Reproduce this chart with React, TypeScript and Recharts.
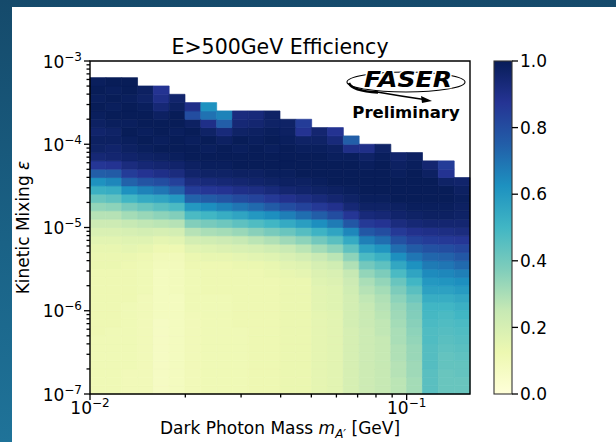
import React from 'react';
import { ScatterChart, Scatter, XAxis, YAxis, ReferenceArea } from 'recharts';

// Dark photon mass bin edges [GeV]
const massEdges = [
  0.01, 0.01122, 0.01259, 0.01413, 0.01585, 0.01778, 0.01995, 0.02239, 0.02512, 0.02818,
  0.03162, 0.03548, 0.03981, 0.04467, 0.05012, 0.05623, 0.0631, 0.07079, 0.07943, 0.08913,
  0.1, 0.1122, 0.1259, 0.1413, 0.1585,
];

// Kinetic mixing bin edges
const epsEdges = [
  1e-7, 1.259e-7, 1.585e-7, 1.995e-7, 2.512e-7, 3.162e-7, 3.981e-7, 5.012e-7, 6.31e-7, 7.943e-7,
  1e-6, 1.259e-6, 1.585e-6, 1.995e-6, 2.512e-6, 3.162e-6, 3.981e-6, 5.012e-6, 6.31e-6, 7.943e-6,
  1e-5, 1.259e-5, 1.585e-5, 1.995e-5, 2.512e-5, 3.162e-5, 3.981e-5, 5.012e-5, 6.31e-5, 7.943e-5,
  1e-4, 1.259e-4, 1.585e-4, 1.995e-4, 2.512e-4, 3.162e-4, 3.981e-4, 5.012e-4, 6.31e-4, 7.943e-4,
  1e-3,
];

// Efficiency per mass bin, listed from the lowest epsilon bin upward
const eff00 = [0.11,0.11,0.11,0.11,0.11,0.11,0.11,0.12,0.12,0.12,0.12,0.12,0.12,0.12,0.12,0.13,0.13,
  0.14,0.16,0.19,0.23,0.28,0.34,0.42,0.52,0.62,0.75,0.87,0.94,
  0.97,0.98,0.96,0.98,0.99,1.0,0.99,1.0,0.99];
const eff01 = [0.11,0.11,0.11,0.11,0.11,0.11,0.11,0.11,0.12,0.12,0.12,0.12,0.12,0.12,0.12,0.13,0.13,
  0.14,0.16,0.19,0.23,0.28,0.35,0.44,0.53,0.65,0.76,0.88,0.95,
  0.96,0.98,0.97,0.99,1.0,0.99,1.0,0.99,1.0];
const eff02 = [0.1,0.1,0.1,0.11,0.11,0.11,0.11,0.11,0.11,0.11,0.11,0.12,0.12,0.12,0.12,0.12,
  0.13,0.15,0.17,0.2,0.25,0.31,0.39,0.5,0.62,0.74,0.85,0.92,0.96,
  0.98,0.99,1.0,0.99,1.0,1.0,0.99,1.0,1.0];
const eff03 = [0.1,0.1,0.1,0.1,0.1,0.1,0.1,0.1,0.1,0.1,0.1,0.1,0.11,0.11,0.11,0.11,
  0.12,0.14,0.17,0.21,0.26,0.33,0.42,0.54,0.66,0.78,0.88,0.94,0.97,
  0.99,1.0,0.99,1.0,1.0,0.99,0.97,0.98];
const eff04 = [0.07,0.07,0.07,0.07,0.07,0.07,0.07,0.07,0.07,0.08,0.08,0.08,0.08,0.08,0.08,
  0.09,0.1,0.12,0.15,0.2,0.27,0.35,0.45,0.56,0.69,0.8,0.9,0.95,0.98,
  1.0,0.99,1.0,1.0,0.98,0.94,0.9,0.88];
const eff05 = [0.08,0.08,0.08,0.08,0.08,0.08,0.08,0.08,0.08,0.08,0.08,0.08,0.09,0.09,0.09,
  0.09,0.1,0.12,0.16,0.21,0.28,0.37,0.48,0.6,0.74,0.84,0.92,0.96,0.99,
  1.0,1.0,0.99,1.0,1.0,0.98,0.96];
const eff06 = [0.1,0.1,0.1,0.1,0.1,0.1,0.1,0.1,0.1,0.1,0.11,0.11,0.11,0.11,0.11,0.12,
  0.13,0.16,0.21,0.28,0.37,0.48,0.6,0.74,0.85,0.92,0.96,0.98,1.0,
  1.0,0.99,1.0,0.98,0.8,0.9];
const eff07 = [0.11,0.11,0.11,0.11,0.11,0.11,0.11,0.11,0.11,0.11,0.11,0.11,0.12,0.12,0.12,0.12,
  0.14,0.17,0.22,0.3,0.39,0.5,0.63,0.76,0.87,0.93,0.97,0.99,1.0,
  0.99,1.0,0.97,0.9,0.7,0.62];
const eff08 = [0.11,0.11,0.11,0.11,0.11,0.11,0.11,0.11,0.11,0.11,0.11,0.11,0.12,0.12,0.12,0.12,
  0.14,0.18,0.23,0.31,0.41,0.53,0.66,0.78,0.88,0.94,0.97,0.99,1.0,
  1.0,0.98,0.93,0.75,0.66];
const eff09 = [0.11,0.11,0.11,0.11,0.11,0.11,0.11,0.11,0.12,0.12,0.12,0.12,0.12,0.12,0.12,
  0.13,0.15,0.19,0.25,0.33,0.44,0.56,0.69,0.81,0.9,0.95,0.98,1.0,1.0,
  0.99,1.0,0.97,0.94,0.92];
const eff10 = [0.12,0.12,0.12,0.12,0.12,0.12,0.12,0.12,0.12,0.12,0.12,0.12,0.12,0.12,0.12,
  0.13,0.16,0.2,0.27,0.36,0.47,0.6,0.72,0.83,0.91,0.96,0.98,1.0,1.0,
  1.0,0.99,0.98,0.95,0.93];
const eff11 = [0.12,0.12,0.12,0.12,0.12,0.12,0.12,0.12,0.12,0.12,0.12,0.12,0.12,0.12,0.13,
  0.14,0.17,0.22,0.29,0.39,0.5,0.63,0.76,0.86,0.93,0.97,0.99,1.0,1.0,
  0.99,1.0,0.99,0.97,0.97];
const eff12 = [0.13,0.13,0.13,0.13,0.13,0.13,0.13,0.13,0.13,0.13,0.13,0.13,0.13,0.13,
  0.14,0.16,0.19,0.24,0.32,0.42,0.54,0.67,0.8,0.89,0.95,0.98,0.99,1.0,1.0,
  1.0,0.99,0.98,0.97];
const eff13 = [0.13,0.13,0.13,0.13,0.13,0.13,0.13,0.13,0.13,0.13,0.13,0.13,0.13,0.13,
  0.15,0.17,0.21,0.27,0.35,0.46,0.58,0.71,0.83,0.91,0.96,0.98,1.0,1.0,1.0,
  0.99,0.97,0.88,0.85];
const eff14 = [0.15,0.15,0.15,0.15,0.15,0.15,0.15,0.15,0.15,0.15,0.16,0.16,0.16,
  0.17,0.18,0.2,0.24,0.31,0.4,0.51,0.63,0.75,0.86,0.93,0.97,0.99,1.0,1.0,1.0,
  0.99,0.97,0.95];
const eff15 = [0.16,0.16,0.16,0.16,0.16,0.16,0.16,0.16,0.16,0.16,0.17,0.17,0.17,
  0.18,0.19,0.22,0.27,0.35,0.45,0.56,0.68,0.8,0.89,0.95,0.98,1.0,1.0,1.0,0.99,
  0.98,0.93,0.88];
const eff16 = [0.2,0.2,0.2,0.2,0.2,0.2,0.2,0.2,0.21,0.21,0.21,0.21,
  0.22,0.23,0.25,0.29,0.35,0.44,0.54,0.65,0.77,0.87,0.94,0.97,0.99,1.0,1.0,1.0,0.99,
  0.9,0.75];
const eff17 = [0.23,0.23,0.23,0.23,0.23,0.23,0.23,0.23,0.24,0.24,0.25,
  0.26,0.28,0.3,0.34,0.4,0.48,0.57,0.67,0.77,0.86,0.93,0.97,0.99,1.0,1.0,1.0,0.99,0.97,
  0.9];
const eff18 = [0.25,0.25,0.25,0.25,0.25,0.25,0.25,0.26,0.26,0.27,0.28,
  0.29,0.31,0.34,0.38,0.44,0.52,0.61,0.71,0.8,0.88,0.94,0.97,0.99,1.0,1.0,1.0,1.0,0.99,
  0.97];
const eff19 = [0.27,0.27,0.28,0.28,0.29,0.29,0.3,0.3,0.31,0.32,
  0.33,0.35,0.38,0.42,0.48,0.55,0.63,0.71,0.79,0.86,0.92,0.96,0.98,1.0,1.0,1.0,0.99,0.98,0.96];
const eff20 = [0.31,0.31,0.32,0.32,0.33,0.33,0.34,0.35,0.36,0.37,
  0.38,0.41,0.45,0.5,0.56,0.62,0.69,0.76,0.83,0.89,0.94,0.97,0.99,1.0,1.0,1.0,1.0,0.99,0.98];
const eff21 = [0.45,0.45,0.45,0.46,0.46,0.46,0.47,0.47,0.48,0.49,
  0.5,0.53,0.57,0.6,0.64,0.68,0.73,0.79,0.85,0.9,0.95,0.98,0.99,1.0,1.0,1.0,0.98,0.95];
const eff22 = [0.42,0.42,0.42,0.43,0.43,0.44,0.45,0.46,0.47,0.48,
  0.5,0.53,0.57,0.61,0.65,0.69,0.74,0.8,0.86,0.91,0.95,0.98,0.99,1.0,1.0,0.97,0.88,0.85];
const eff23 = [0.42,0.42,0.43,0.43,0.44,0.45,0.46,0.47,0.48,0.5,
  0.52,0.55,0.59,0.63,0.67,0.72,0.77,0.82,0.87,0.92,0.95,0.97,0.98,0.99,0.98,0.96];

const efficiencyByMassBin = [
  eff00, eff01, eff02, eff03, eff04, eff05, eff06, eff07, eff08, eff09, eff10, eff11,
  eff12, eff13, eff14, eff15, eff16, eff17, eff18, eff19, eff20, eff21, eff22, eff23,
];

// Tick positions and labels
const xMajorTicks = [0.01, 0.1];
const xMajorExponents = [-2, -1];
const xMinorTicks = [0.02, 0.03, 0.04, 0.05, 0.06, 0.07, 0.08, 0.09];
const yMajorTicks = [1e-7, 1e-6, 1e-5, 1e-4, 1e-3];
const yMajorExponents = [-7, -6, -5, -4, -3];
const minorMultipliers = [2, 3, 4, 5, 6, 7, 8, 9];
const colorbarTicks = [0, 0.2, 0.4, 0.6, 0.8, 1.0];
const colorbarLabels = ['0.0', '0.2', '0.4', '0.6', '0.8', '1.0'];

// YlGnBu colour map stops
const ylgnbu = ['#ffffd9', '#edf8b1', '#c7e9b4', '#7fcdbb', '#41b6c4', '#1d91c0', '#225ea8', '#253494', '#081d58'];

const FONT = '"DejaVu Sans", sans-serif';

const hexToRgb = (h: string) => [
  parseInt(h.slice(1, 3), 16),
  parseInt(h.slice(3, 5), 16),
  parseInt(h.slice(5, 7), 16),
];
const ylgnbuRgb = ylgnbu.map(hexToRgb);

function colorFor(v: number): string {
  const t = Math.min(1, Math.max(0, v)) * (ylgnbuRgb.length - 1);
  const i = Math.min(ylgnbuRgb.length - 2, Math.floor(t));
  const f = t - i;
  const a = ylgnbuRgb[i];
  const b = ylgnbuRgb[i + 1];
  const c = a.map((av, k) => Math.round(av + (b[k] - av) * f));
  return `rgb(${c[0]},${c[1]},${c[2]})`;
}

const cells = efficiencyByMassBin.flatMap((col, i) =>
  col.map((v, j) => ({
    key: `${i}-${j}`,
    x1: massEdges[i],
    x2: massEdges[i + 1],
    y1: epsEdges[j],
    y2: epsEdges[j + 1],
    color: colorFor(v),
  }))
);

const cellCenters = efficiencyByMassBin.flatMap((col, i) =>
  col.map((_, j) => ({
    m: Math.sqrt(massEdges[i] * massEdges[i + 1]),
    e: Math.sqrt(epsEdges[j] * epsEdges[j + 1]),
  }))
);

const xTicks = [...xMajorTicks, ...xMinorTicks];
const yMinorTicks = yMajorTicks.slice(0, -1).flatMap((d) => minorMultipliers.map((k) => d * k));
const yTicks = [...yMajorTicks, ...yMinorTicks];

const isClose = (a: number, b: number) => Math.abs(a - b) / b < 1e-6;

const XTick = (props: any) => {
  const { x, y, payload } = props;
  const idx = xMajorTicks.findIndex((t) => isClose(payload.value, t));
  const major = idx >= 0;
  return (
    <g>
      <line x1={x} x2={x} y1={y} y2={y + (major ? 6 : 3.5)} stroke="#000" strokeWidth={1.3} />
      {major && (
        <text x={x} y={y + 20} textAnchor="middle" fontFamily={FONT} fontSize={17} fill="#000">
          10
          <tspan fontSize={12} dy={-7}>{`\u2212${Math.abs(xMajorExponents[idx])}`}</tspan>
        </text>
      )}
    </g>
  );
};

const YTick = (props: any) => {
  const { x, y, payload } = props;
  const idx = yMajorTicks.findIndex((t) => isClose(payload.value, t));
  const major = idx >= 0;
  return (
    <g>
      <line x1={x - (major ? 6 : 3.5)} x2={x} y1={y} y2={y} stroke="#000" strokeWidth={1.3} />
      {major && (
        <text x={x - 8} y={y + 6.5} textAnchor="end" fontFamily={FONT} fontSize={17} fill="#000">
          10
          <tspan fontSize={12} dy={-7}>{`\u2212${Math.abs(yMajorExponents[idx])}`}</tspan>
        </text>
      )}
    </g>
  );
};

const EmptyShape = () => <g />;

// Colour bar geometry
const CB_X = 494;
const CB_W = 18;
const CB_TOP = 61;
const CB_H = 333;

export default function App() {
  return (
    <div
      style={{
        position: 'absolute',
        left: 0,
        top: 0,
        width: 616,
        height: 442,
        overflow: 'hidden',
        background: 'linear-gradient(180deg, #154a6b 0%, #1a6286 55%, #1f7399 100%)',
      }}
    >
      <div style={{ position: 'absolute', left: 12, top: 7, right: 0, bottom: 0, background: '#ffffff' }} />
      <div style={{ position: 'absolute', left: 0, top: 0 }}>
        <ScatterChart width={616} height={442} margin={{ top: 61, right: 146, bottom: 12, left: 0 }}>
          <XAxis
            type="number"
            dataKey="m"
            scale="log"
            domain={[massEdges[0], massEdges[massEdges.length - 1]]}
            allowDataOverflow
            ticks={xTicks}
            interval={0}
            tick={XTick}
            tickLine={false}
            axisLine={false}
            tickSize={0}
            tickMargin={0}
            height={36}
          />
          <YAxis
            type="number"
            dataKey="e"
            scale="log"
            domain={[epsEdges[0], epsEdges[epsEdges.length - 1]]}
            allowDataOverflow
            ticks={yTicks}
            interval={0}
            tick={YTick}
            tickLine={false}
            axisLine={false}
            tickSize={0}
            tickMargin={0}
            width={90}
          />
          {cells.map((c) => (
            <ReferenceArea
              key={c.key}
              x1={c.x1}
              x2={c.x2}
              y1={c.y1}
              y2={c.y2}
              fill={c.color}
              fillOpacity={1}
              stroke={c.color}
              strokeWidth={0.7}
              isFront={false}
            />
          ))}
          <ReferenceArea
            x1={massEdges[0]}
            x2={massEdges[massEdges.length - 1]}
            y1={epsEdges[0]}
            y2={epsEdges[epsEdges.length - 1]}
            fill="none"
            fillOpacity={0}
            stroke="#000"
            strokeWidth={1.4}
          />
          <Scatter data={cellCenters} shape={EmptyShape} isAnimationActive={false} />
        </ScatterChart>
      </div>
      <svg
        width={616}
        height={442}
        style={{ position: 'absolute', left: 0, top: 0, pointerEvents: 'none' }}
        fontFamily={FONT}
      >
        <defs>
          <linearGradient id="cbGrad" x1="0" y1="1" x2="0" y2="0">
            {ylgnbu.map((c, i) => (
              <stop key={c} offset={i / (ylgnbu.length - 1)} stopColor={c} />
            ))}
          </linearGradient>
        </defs>

        {/* Title */}
        <text x={280} y={54} textAnchor="middle" fontSize={20.5} fill="#000">
          E&gt;500GeV Efficiency
        </text>

        {/* Axis labels */}
        <text x={280} y={434} textAnchor="middle" fontSize={17} fill="#000">
          Dark Photon Mass{' '}
          <tspan fontStyle="italic">m</tspan>
          <tspan fontStyle="italic" fontSize={12} dy={4}>A′</tspan>
          <tspan dy={-4}> [GeV]</tspan>
        </text>
        <text transform="translate(29,227.5) rotate(-90)" textAnchor="middle" fontSize={17} fill="#000">
          Kinetic Mixing <tspan fontStyle="italic">ε</tspan>
        </text>

        {/* Colour bar */}
        <rect x={CB_X} y={CB_TOP} width={CB_W} height={CB_H} fill="url(#cbGrad)" stroke="#333" strokeWidth={1.1} />
        {colorbarTicks.map((t, i) => {
          const yy = CB_TOP + CB_H - t * CB_H;
          return (
            <g key={t}>
              <line x1={CB_X + CB_W} x2={CB_X + CB_W + 6} y1={yy} y2={yy} stroke="#000" strokeWidth={1.3} />
              <text x={CB_X + CB_W + 8} y={yy + 6.2} fontSize={17} fill="#000">
                {colorbarLabels[i]}
              </text>
            </g>
          );
        })}

        {/* FASER logo */}
        <g>
          <ellipse cx={406} cy={82} rx={59} ry={10} fill="none" stroke="#000" strokeWidth={1.1} />
          <path d="M 349 83 Q 352 91 378 92.5" fill="none" stroke="#000" strokeWidth={2.4} />
          <text
            x={408}
            y={87}
            textAnchor="middle"
            fontSize={20.5}
            fontWeight="bold"
            fontStyle="italic"
            textLength={88}
            lengthAdjust="spacingAndGlyphs"
            fill="#000"
            stroke="#fff"
            strokeWidth={2.5}
            paintOrder="stroke"
          >
            FASER
          </text>
          <path d="M 374 91.5 Q 400 96 424 99.5" fill="none" stroke="#000" strokeWidth={1.5} />
          <polygon points="432,101 421,96 422,103" fill="#000" />
          <text x={406} y={118} textAnchor="middle" fontSize={16.5} fontWeight="bold" fill="#000">
            Preliminary
          </text>
        </g>
      </svg>
    </div>
  );
}
